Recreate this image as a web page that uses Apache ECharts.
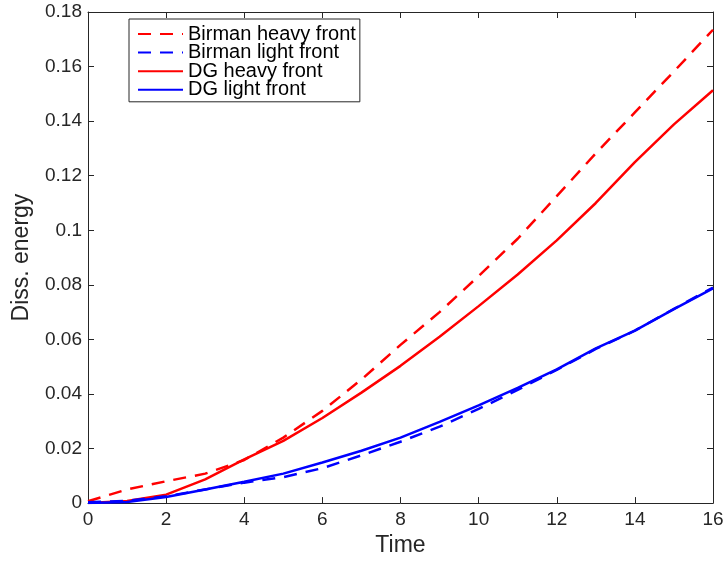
<!DOCTYPE html>
<html>
<head>
<meta charset="utf-8">
<script src="https://cdn.jsdelivr.net/npm/echarts@6/dist/echarts.min.js"></script>
<style>
html,body{margin:0;padding:0;background:#fff;}
#c{width:728px;height:562px;}
</style>
</head>
<body>
<div id="c"></div>
<script>
const times = [0,1,2,3,4,5,6,7,8,9,10,11,12,13,14,15,16];
const birmanHeavy = [0.0007,0.0050,0.0080,0.0108,0.0158,0.0240,0.0338,0.0453,0.0580,0.0700,0.0832,0.0969,0.1125,0.1282,0.1432,0.1582,0.1735];
const birmanLight = [0.0003,0.0008,0.0025,0.0050,0.0075,0.0095,0.0128,0.0175,0.0225,0.0280,0.0345,0.0415,0.0488,0.0565,0.0632,0.0712,0.0790];
const dgHeavy = [0,0.0008,0.0031,0.0087,0.0160,0.0228,0.0312,0.0405,0.0503,0.0610,0.0722,0.0838,0.0963,0.1100,0.1250,0.1388,0.1513];
const dgLight = [0,0.0004,0.0022,0.0050,0.0078,0.0108,0.0149,0.0192,0.0240,0.0298,0.0358,0.0422,0.0490,0.0567,0.0632,0.0711,0.0787];
const seriesNames = ['Birman heavy front','Birman light front','DG heavy front','DG light front'];
const xTicks = [0,2,4,6,8,10,12,14,16];
const yTicks = [0,0.02,0.04,0.06,0.08,0.1,0.12,0.14,0.16,0.18];

const AX = '#262626';
const FONT = 'Liberation Sans, Arial, Helvetica, sans-serif';
const pair = arr => times.map((t,i)=>[t,arr[i]]);

const chart = echarts.init(document.getElementById('c'), null, {renderer:'canvas'});
function baseX(extra){
  return Object.assign({
    type:'value', gridIndex:0, min:xTicks[0], max:xTicks[xTicks.length-1], interval:2,
    axisLine:{show:true,onZero:false,lineStyle:{color:AX,width:1}},
    axisTick:{show:true,inside:true,length:6,lineStyle:{color:AX}},
    splitLine:{show:false}
  }, extra);
}
function baseY(extra){
  return Object.assign({
    type:'value', gridIndex:0, min:yTicks[0], max:yTicks[yTicks.length-1], interval:0.02,
    axisLine:{show:true,onZero:false,lineStyle:{color:AX,width:1}},
    axisTick:{show:true,inside:true,length:6,lineStyle:{color:AX}},
    splitLine:{show:false}
  }, extra);
}
const mk = (name, data, color, dashed) => ({
  name, type:'line', xAxisIndex:0, yAxisIndex:0, data:pair(data), showSymbol:false, symbol:'none',
  lineStyle:{color, width:2.5, type: dashed ? [13,9] : 'solid'},
  itemStyle:{color}, z: dashed ? 3 : 2
});

chart.setOption({
  animation:false,
  backgroundColor:'#fff',
  grid:{left:88, right:15, top:12, bottom:56, containLabel:false},
  legend:{
    data:seriesNames, orient:'vertical', left:129, top:19,
    itemWidth:45, itemHeight:14, itemGap:-1.4,
    padding:[5,4,2,8],
    borderColor:AX, borderWidth:1, backgroundColor:'#fff',
    itemStyle:{opacity:0},
    textStyle:{fontFamily:FONT, fontSize:20, color:'#000'},
    selectedMode:false
  },
  xAxis:[
    baseX({
      position:'bottom',
      name:'Time', nameLocation:'middle', nameGap:25,
      nameTextStyle:{fontFamily:FONT, fontSize:23, color:AX},
      axisLabel:{show:true, margin:7, fontFamily:FONT, fontSize:19, color:AX}
    }),
    baseX({position:'top', axisLabel:{show:false}})
  ],
  yAxis:[
    baseY({
      position:'left',
      name:'Diss. energy', nameLocation:'middle', nameGap:55,
      nameTextStyle:{fontFamily:FONT, fontSize:23, color:AX},
      axisLabel:{show:true, margin:6, fontFamily:FONT, fontSize:19, color:AX,
        formatter: v => String(Math.round(v*100)/100)}
    }),
    baseY({position:'right', axisLabel:{show:false}})
  ],
  series:[
    mk(seriesNames[0], birmanHeavy, '#ff0000', true),
    mk(seriesNames[1], birmanLight, '#0000ff', true),
    mk(seriesNames[2], dgHeavy, '#ff0000', false),
    mk(seriesNames[3], dgLight, '#0000ff', false)
  ]
});
</script>
</body>
</html>
